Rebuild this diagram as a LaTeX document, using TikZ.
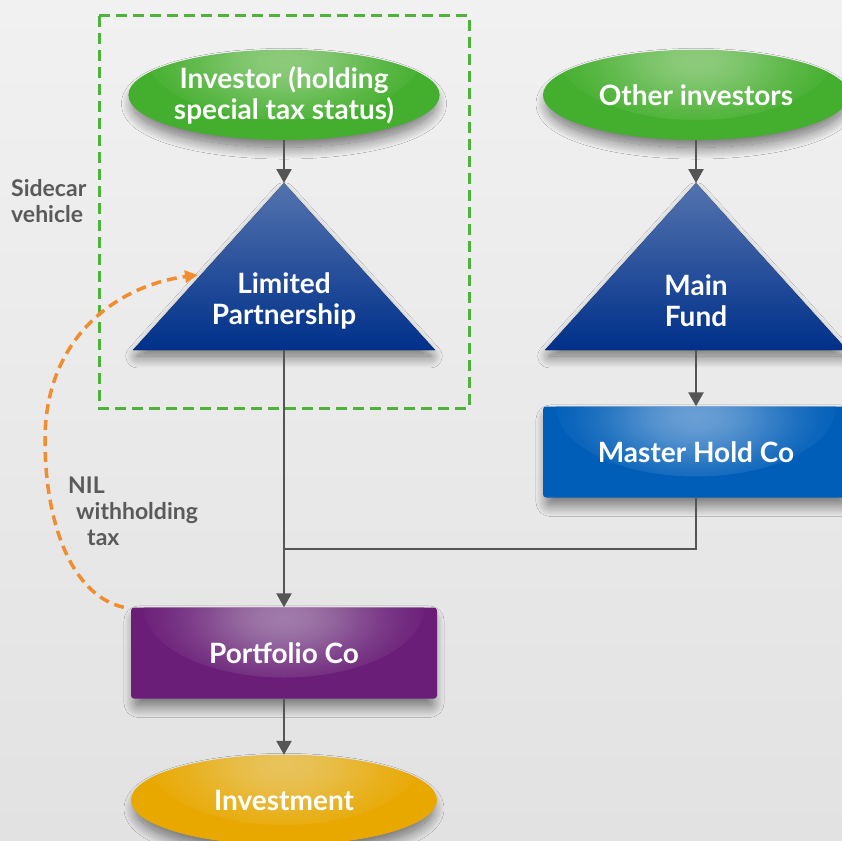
\documentclass[tikz,border=0pt]{standalone}
\usepackage{fontspec}
\setmainfont{Lato}
\usetikzlibrary{arrows.meta,shadows.blur,calc,shapes.geometric}
\definecolor{bgtop}{HTML}{F1F1F1}
\definecolor{bgbot}{HTML}{E2E2E2}
\definecolor{gbase}{HTML}{44AF2E}
\definecolor{ghl}{HTML}{8DCB7C}
\definecolor{ttop}{HTML}{5373AE}
\definecolor{tmid}{HTML}{0A3790}
\definecolor{tbot}{HTML}{00308A}
\definecolor{mbase}{HTML}{005EB8}
\definecolor{mhl}{HTML}{6A9FD4}
\definecolor{pbase}{HTML}{6B1E78}
\definecolor{phl}{HTML}{A07CAA}
\definecolor{ibase}{HTML}{E8A800}
\definecolor{ihl}{HTML}{E8C35C}
\definecolor{lineg}{HTML}{555555}
\definecolor{labg}{HTML}{5A5A5A}
\definecolor{orng}{HTML}{F18D2E}
\definecolor{dgreen}{HTML}{4DB33A}
\newcommand\mkhl[3]{\pgfdeclareradialshading{#1}{\pgfpointorigin}{%
  color(0bp)=(#2); color(4bp)=(#2!92!#3); color(8bp)=(#2!75!#3);
  color(12bp)=(#2!52!#3); color(16bp)=(#2!30!#3); color(20bp)=(#2!13!#3);
  color(23bp)=(#2!4!#3); color(25bp)=(#3); color(50bp)=(#3)}}
\mkhl{hlgreen}{ghl}{gbase}
\mkhl{hlblue}{mhl}{mbase}
\mkhl{hlpurple}{phl}{pbase}
\mkhl{hlgold}{ihl}{ibase}
\begin{document}
\begin{tikzpicture}[x=1pt,y=-1pt,
  shd/.style={blur shadow={shadow xshift=0pt,shadow yshift=-9pt,shadow blur radius=12pt,
      shadow opacity=55,shadow scale=0.97,shadow blur steps=24}},
  mainfont/.style={font=\bfseries\fontsize{28}{31}\selectfont, text=white, align=center},
  hlite/.style 2 args={fill=#1, path picture={\shade[shading=#2]
      (path picture bounding box.north) ellipse [x radius=140pt, y radius=70pt];}},
  ell/.style 2 args={ellipse, minimum width=306pt, minimum height=90pt, inner sep=0pt,
      mainfont, shd, hlite={#1}{#2}},
  boxnode/.style 2 args={rectangle, rounded corners=3pt, minimum width=306pt, minimum height=91pt,
      inner sep=0pt, mainfont, shd, hlite={#1}{#2}},
  tri/.style={top color=ttop, middle color=tmid, bottom color=tbot, shd},
  conn/.style={draw=lineg, line width=2.5pt, -{Triangle[length=14pt,width=15pt]}},
  plainconn/.style={draw=lineg, line width=2.5pt},
  lab/.style={font=\bfseries\fontsize{23}{26}\selectfont, text=labg, align=left, inner sep=0pt}
]
\useasboundingbox (0,0) rectangle (842,840);
\clip (0,0) rectangle (842,840);
\fill[top color=bgtop, bottom color=bgbot] (0,0) rectangle (842,840);

% sidecar dashed box
\draw[dgreen, line width=3pt, dash pattern=on 11pt off 6pt] (99,16) rectangle (469,408);

% triangles
\coordinate (lpapex) at (284,183);
\coordinate (lpbase) at (284,350);
\fill[tri] (lpapex) -- (133,350) -- (435,350) -- cycle;
\node[mainfont] (lp) at (284,301) {Limited\\Partnership};

\coordinate (mfapex) at (696,183);
\coordinate (mfbase) at (696,350);
\fill[tri] (mfapex) -- (545,350) -- (847,350) -- cycle;
\node[mainfont] (mf) at (696,301) {Main\\Fund};

% nodes
\node[ell={gbase}{hlgreen}] (inv) at (284,95) {Investor (holding\\special tax status)};
\node[ell={gbase}{hlgreen}] (oth) at (696,95) {Other investors};
\node[boxnode={mbase}{hlblue}] (mhc) at (696,452) {Master Hold Co};
\node[boxnode={pbase}{hlpurple}] (pc) at (284,653) {Portfolio Co};
\node[ell={ibase}{hlgold}] (invest) at (284,800) {Investment};

% connectors
\draw[conn] (inv.south) -- (lpapex);
\draw[conn] (oth.south) -- (mfapex);
\draw[conn] (mfbase) -- (mhc.north);
\draw[conn] (lpbase) -- (pc.north);
\coordinate (junc) at (284,549);
\draw[plainconn] (mhc.south) |- (junc);
\draw[conn] (pc.south) -- (invest.north);

% orange dashed curve
\coordinate (ostart) at ($(pc.north west)+(-7,0)$);
\coordinate (mid) at (45,440);
\coordinate (oend) at (198,275);
\draw[orng, line width=3.5pt, dash pattern=on 10pt off 6pt, -{Triangle[length=13pt,width=12pt]}]
  (ostart) .. controls (70,595) and (45,520) .. (mid)
           .. controls (45,335) and (120,285) .. (oend);

% labels
\node[lab, anchor=north west] (side) at (11,179) {Sidecar\\vehicle};
\node[lab, anchor=north west] (nil) at (68,477) {NIL\\\hspace*{8pt}withholding\\\hspace*{19pt}tax};
\end{tikzpicture}
\end{document}
